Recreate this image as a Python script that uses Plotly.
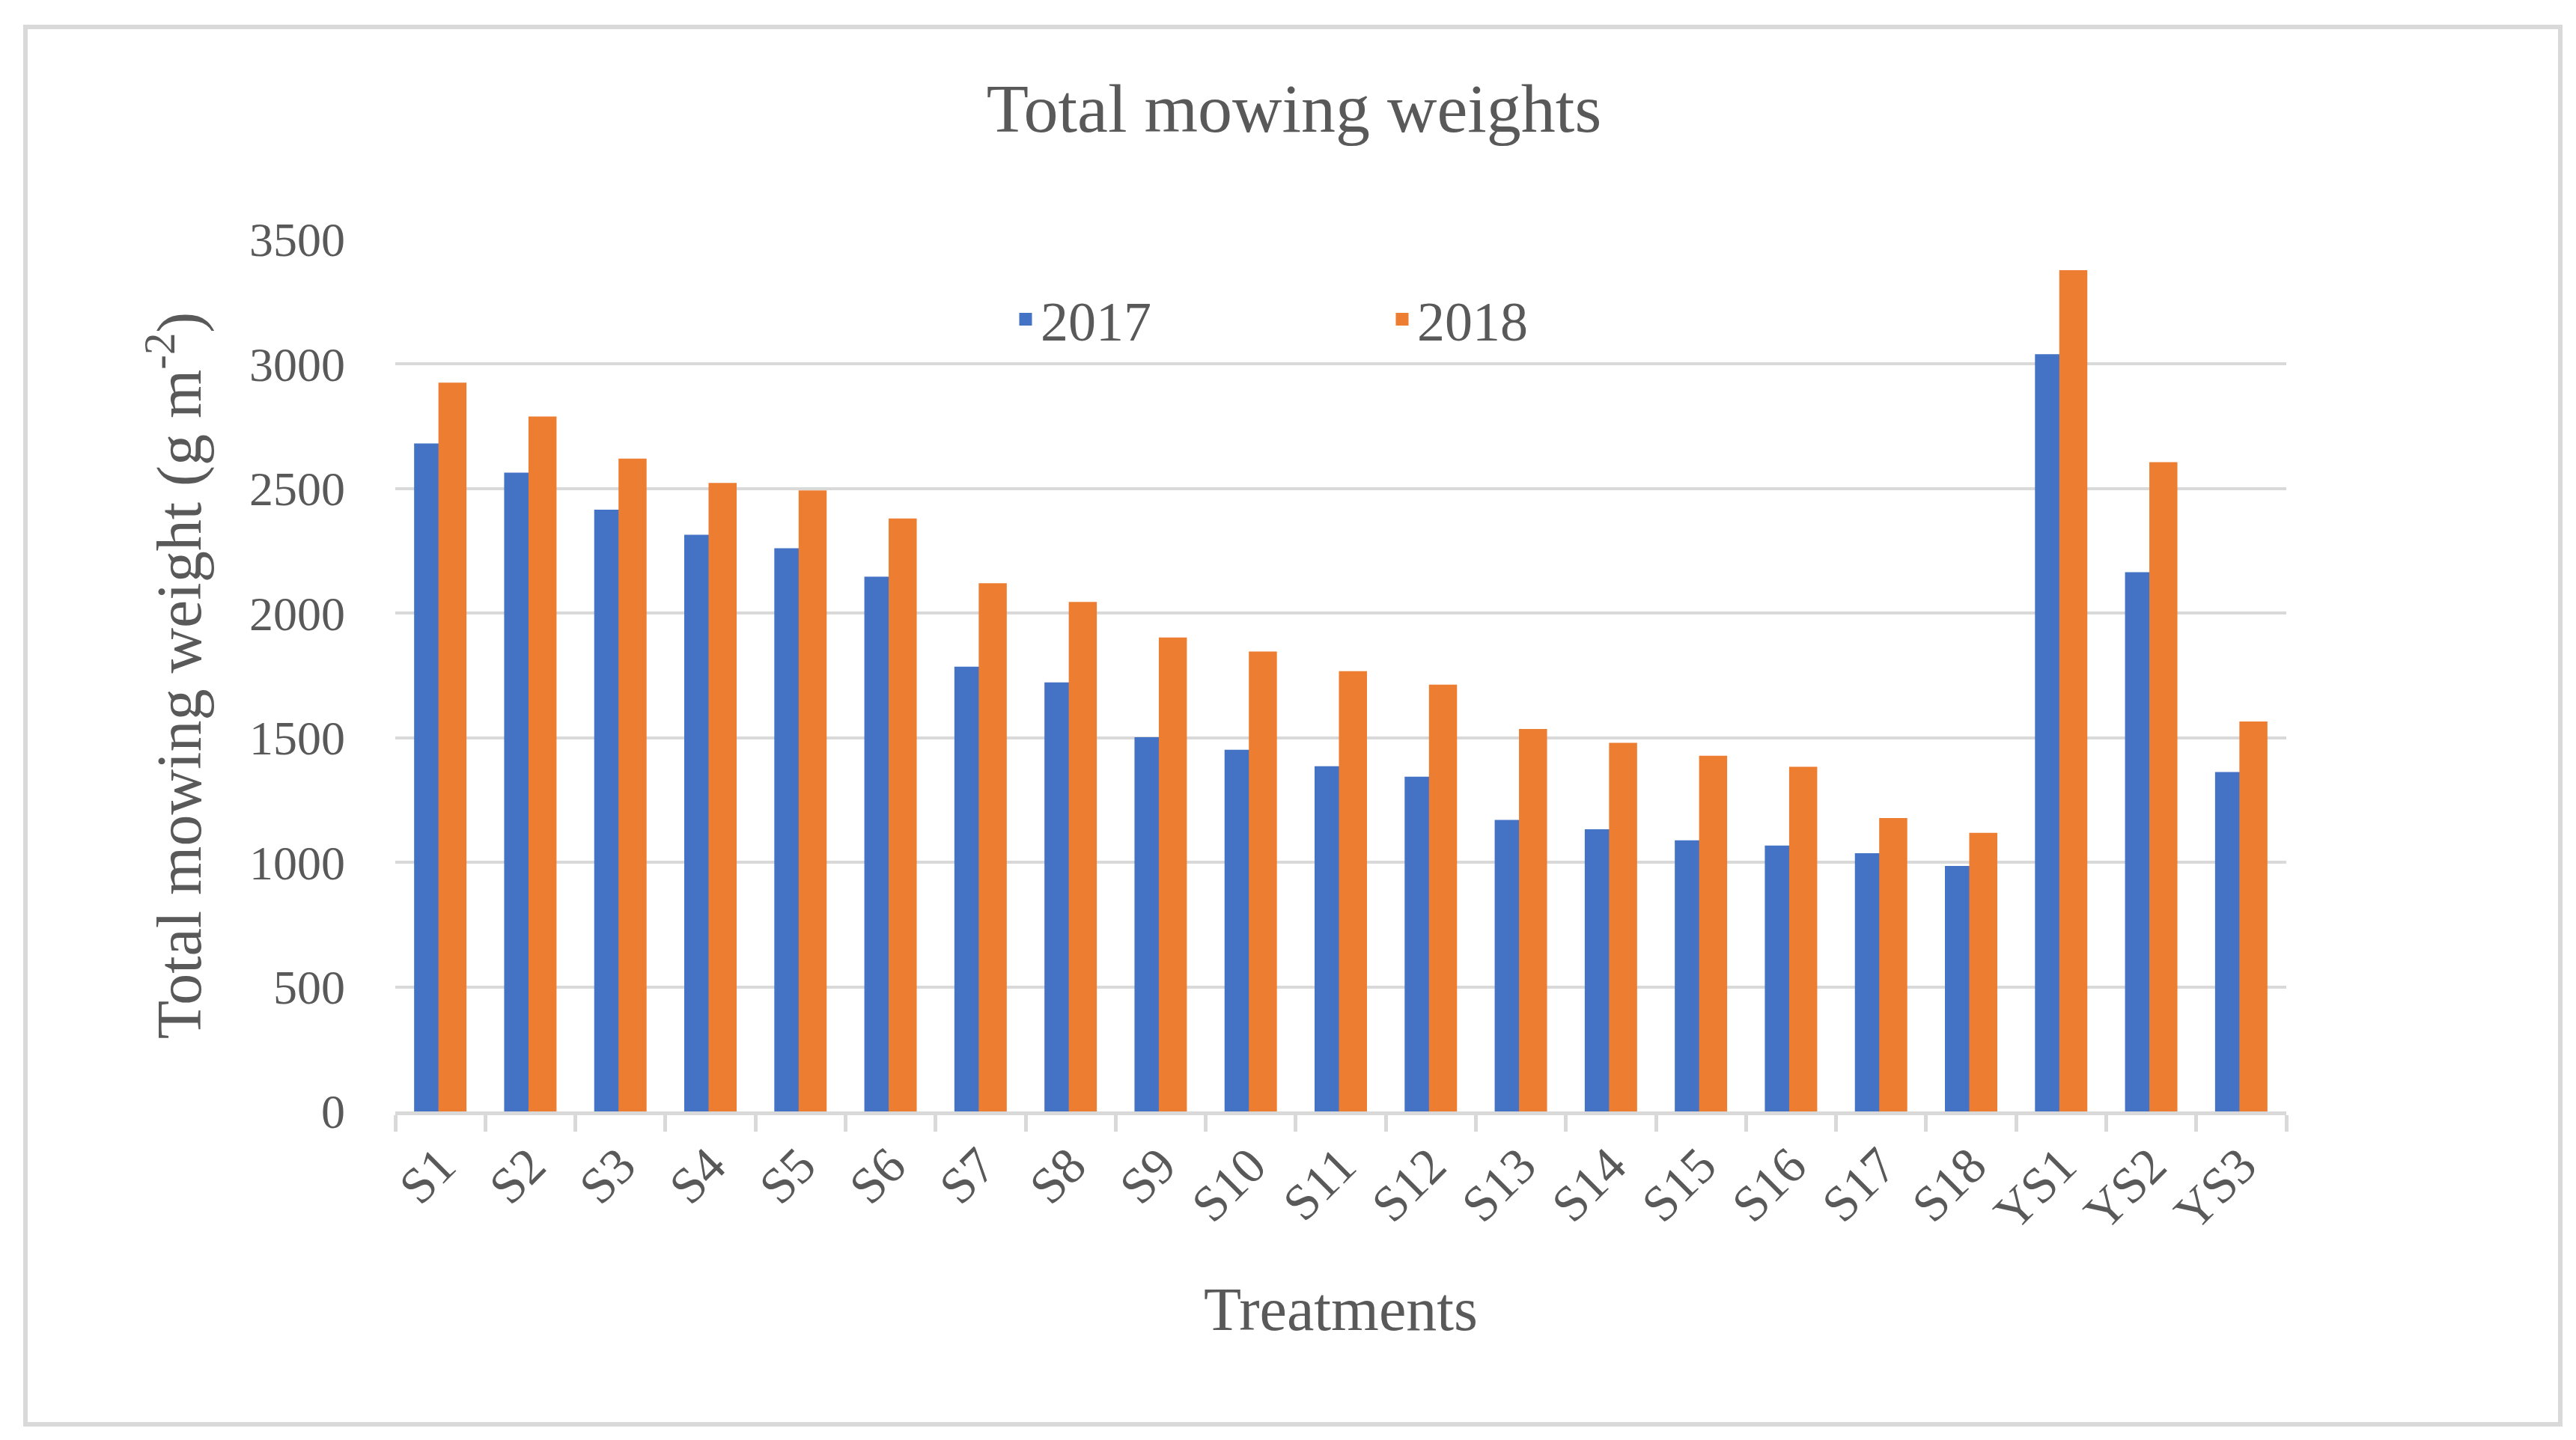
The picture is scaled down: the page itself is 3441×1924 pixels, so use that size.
import plotly.graph_objects as go

treatments = ["S1", "S2", "S3", "S4", "S5", "S6", "S7", "S8", "S9", "S10", "S11",
              "S12", "S13", "S14", "S15", "S16", "S17", "S18", "YS1", "YS2", "YS3"]
weights_2017 = [2674, 2557, 2408, 2307, 2253, 2139, 1778, 1715, 1495, 1444, 1378,
                1336, 1163, 1125, 1081, 1060, 1029, 978, 3032, 2157, 1355]
weights_2018 = [2918, 2782, 2613, 2515, 2485, 2373, 2113, 2038, 1895, 1839, 1760,
                1706, 1528, 1472, 1420, 1376, 1170, 1111, 3369, 2599, 1558]
y_ticks = [0, 500, 1000, 1500, 2000, 2500, 3000, 3500]

FONT = "Liberation Serif, Times New Roman, serif"
TXT = "#595959"
GRID = "#D9D9D9"
BLUE = "#4472C4"
ORANGE = "#ED7D31"

W, H = 3441, 1924
L, R, T, B = 520, 3441 - 3046, 312, 1924 - 1477
pw, ph = W - L - R, H - T - B

fig = go.Figure()
fig.add_trace(go.Bar(x=treatments, y=weights_2017, name="2017",
                     marker=dict(color=BLUE, line=dict(color=BLUE, width=5))))
fig.add_trace(go.Bar(x=treatments, y=weights_2018, name="2018",
                     marker=dict(color=ORANGE, line=dict(color=ORANGE, width=5))))

def px2paper_x(px):
    return (px - L) / pw

def px2paper_y(py):
    return (H - B - py) / ph

fig.add_shape(type="rect", xref="paper", yref="paper",
              x0=px2paper_x(26), x1=px2paper_x(3412),
              y0=px2paper_y(1895), y1=px2paper_y(28),
              line=dict(color=GRID, width=6), layer="below")

fig.update_layout(
    width=W, height=H,
    margin=dict(l=L, r=R, t=T, b=B),
    paper_bgcolor="white", plot_bgcolor="white",
    font=dict(family=FONT, color=TXT, size=64),
    barmode="group", bargap=0.46, bargroupgap=0,
    title=dict(text="Total mowing weights", x=0.5, xref="container", xanchor="center",
               y=1 - 136 / H, yref="container", yanchor="middle",
               font=dict(family=FONT, color=TXT, size=92)),
    legend=dict(orientation="h", x=px2paper_x(1342), xanchor="left",
                y=px2paper_y(419), yanchor="middle",
                font=dict(family=FONT, color=TXT, size=74),
                entrywidth=458, entrywidthmode="pixels",
                bgcolor="rgba(0,0,0,0)"),
    showlegend=True,
)

fig.update_xaxes(
    type="category", tickson="boundaries", ticks="outside", ticklen=22,
    tickwidth=5, tickcolor=GRID, showline=True, linecolor=GRID, linewidth=5,
    showgrid=False, tickangle=-45,
    tickfont=dict(family=FONT, color=TXT, size=68),
    title=dict(text="Treatments", standoff=64, font=dict(family=FONT, color=TXT, size=82)),
)
fig.update_yaxes(
    range=[0, 3500], tickvals=y_ticks, ticktext=[str(v) for v in y_ticks],
    showgrid=True, gridcolor=GRID, gridwidth=4, zeroline=False, showline=False,
    ticks="", ticklabelstandoff=66,
    tickfont=dict(family=FONT, color=TXT, size=64),
    title=dict(text="Total mowing weight (g m<sup>-2</sup>)", standoff=36,
               font=dict(family=FONT, color=TXT, size=84)),
)

fig.write_html("out.html")
